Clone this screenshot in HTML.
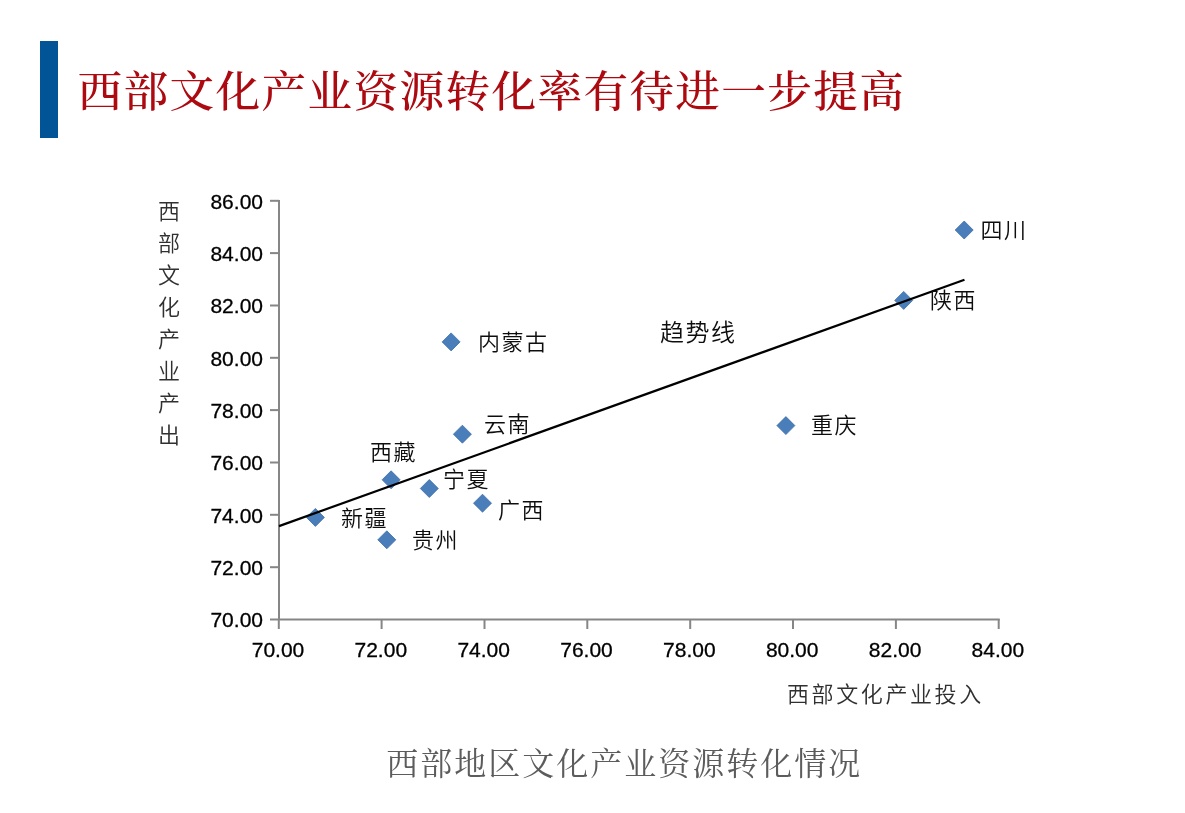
<!DOCTYPE html>
<html lang="zh-CN">
<head>
<meta charset="utf-8">
<title>西部文化产业资源转化率有待进一步提高</title>
<style>
  html, body { margin: 0; padding: 0; background: #ffffff; }
  body { width: 1185px; height: 813px; position: relative; overflow: hidden; }
  .bar { position: absolute; left: 40px; top: 41px; width: 18px; height: 97px; background: #015596; }
  svg { position: absolute; left: 0; top: 0; }
  .title { font-family: "Liberation Serif", "Noto Serif CJK SC", serif; font-size: 43px; font-weight: 500; letter-spacing: 1.22px; fill: #AC0A10; }
  .num { font-family: "Liberation Sans", sans-serif; font-size: 21px; fill: #000; stroke: #000; stroke-width: 0.3px; }
  .lbl { font-family: "Liberation Sans", "Noto Sans CJK SC", sans-serif; font-size: 22px; font-weight: 350; letter-spacing: 1.5px; fill: #0d0d0d; }
  .axt { font-family: "Liberation Sans", "Noto Sans CJK SC", sans-serif; font-size: 22px; font-weight: 350; fill: #303030; }
  .cap { font-family: "Liberation Serif", "Noto Serif CJK SC", serif; font-size: 32px; letter-spacing: 2.0px; fill: #5c5c5c; }
</style>
</head>
<body>
<div class="bar"></div>
<svg width="1185" height="813" viewBox="0 0 1185 813">
  <text class="title" transform="translate(77.6,106.9) scale(1.04,1)">西部文化产业资源转化率有待进一步提高</text>

  <!-- axes -->
  <g stroke="#868686" stroke-width="2" fill="none">
    <line x1="279" y1="200" x2="279" y2="620"/>
    <line x1="278" y1="619.5" x2="999.7" y2="619.5"/>
    <!-- y ticks -->
    <line x1="270" y1="200.8" x2="279" y2="200.8"/>
    <line x1="270" y1="253.1" x2="279" y2="253.1"/>
    <line x1="270" y1="305.5" x2="279" y2="305.5"/>
    <line x1="270" y1="357.8" x2="279" y2="357.8"/>
    <line x1="270" y1="410.1" x2="279" y2="410.1"/>
    <line x1="270" y1="462.5" x2="279" y2="462.5"/>
    <line x1="270" y1="514.8" x2="279" y2="514.8"/>
    <line x1="270" y1="567.2" x2="279" y2="567.2"/>
    <line x1="270" y1="619.5" x2="279" y2="619.5"/>
    <!-- x ticks -->
    <line x1="278.8" y1="619" x2="278.8" y2="629"/>
    <line x1="381.6" y1="619" x2="381.6" y2="629"/>
    <line x1="484.5" y1="619" x2="484.5" y2="629"/>
    <line x1="587.3" y1="619" x2="587.3" y2="629"/>
    <line x1="690.2" y1="619" x2="690.2" y2="629"/>
    <line x1="793.0" y1="619" x2="793.0" y2="629"/>
    <line x1="895.9" y1="619" x2="895.9" y2="629"/>
    <line x1="998.7" y1="619" x2="998.7" y2="629"/>
  </g>

  <!-- y labels -->
  <g class="num" text-anchor="end">
    <text x="263" y="208.6">86.00</text>
    <text x="263" y="260.9">84.00</text>
    <text x="263" y="313.3">82.00</text>
    <text x="263" y="365.6">80.00</text>
    <text x="263" y="417.9">78.00</text>
    <text x="263" y="470.3">76.00</text>
    <text x="263" y="522.6">74.00</text>
    <text x="263" y="575.0">72.00</text>
    <text x="263" y="627.3">70.00</text>
  </g>
  <!-- x labels -->
  <g class="num" text-anchor="middle">
    <text x="278.0" y="657">70.00</text>
    <text x="380.8" y="657">72.00</text>
    <text x="483.7" y="657">74.00</text>
    <text x="586.5" y="657">76.00</text>
    <text x="689.4" y="657">78.00</text>
    <text x="792.2" y="657">80.00</text>
    <text x="895.1" y="657">82.00</text>
    <text x="997.9" y="657">84.00</text>
  </g>


  <!-- markers -->
  <g fill="#4A7EBB" stroke="#3F6EA8" stroke-width="0.8">
    <path d="M964.2 221 L973.2 230 L964.2 239 L955.2 230 Z"/>
    <path d="M903.7 291.4 L912.7 300.4 L903.7 309.4 L894.7 300.4 Z"/>
    <path d="M451.1 332.9 L460.1 341.9 L451.1 350.9 L442.1 341.9 Z"/>
    <path d="M462.4 425.2 L471.4 434.2 L462.4 443.2 L453.4 434.2 Z"/>
    <path d="M785.9 416.6 L794.9 425.6 L785.9 434.6 L776.9 425.6 Z"/>
    <path d="M391.1 470.8 L400.1 479.8 L391.1 488.8 L382.1 479.8 Z"/>
    <path d="M429.3 479.5 L438.3 488.5 L429.3 497.5 L420.3 488.5 Z"/>
    <path d="M482.5 494.2 L491.5 503.2 L482.5 512.2 L473.5 503.2 Z"/>
    <path d="M315.4 508.4 L324.4 517.4 L315.4 526.4 L306.4 517.4 Z"/>
    <path d="M386.8 530.8 L395.8 539.8 L386.8 548.8 L377.8 539.8 Z"/>
  </g>

  <!-- trend line -->
  <line x1="279" y1="526.1" x2="964.5" y2="279.7" stroke="#000" stroke-width="2.2"/>

  <!-- data labels -->
  <g class="lbl">
    <text x="980.5" y="238">四川</text>
    <text x="930" y="308">陕西</text>
    <text x="478" y="350">内蒙古</text>
    <text x="484" y="432">云南</text>
    <text x="811" y="433">重庆</text>
    <text x="370" y="459.5">西藏</text>
    <text x="443" y="487">宁夏</text>
    <text x="498" y="518">广西</text>
    <text x="341" y="526">新疆</text>
    <text x="412" y="548">贵州</text>
  </g>
  <text class="lbl" x="660" y="341" style="font-size:24px">趋势线</text>

  <!-- axis titles -->
  <text class="axt" x="787" y="702" letter-spacing="2.6">西部文化产业投入</text>
  <g class="axt" text-anchor="middle">
    <text x="169" y="219">西</text>
    <text x="169" y="251">部</text>
    <text x="169" y="283">文</text>
    <text x="169" y="315">化</text>
    <text x="169" y="347">产</text>
    <text x="169" y="379">业</text>
    <text x="169" y="411">产</text>
    <text x="169" y="443">出</text>
  </g>

  <text class="cap" transform="translate(386.3,774.8)">西部地区文化产业资源转化情况</text>
</svg>
</body>
</html>
